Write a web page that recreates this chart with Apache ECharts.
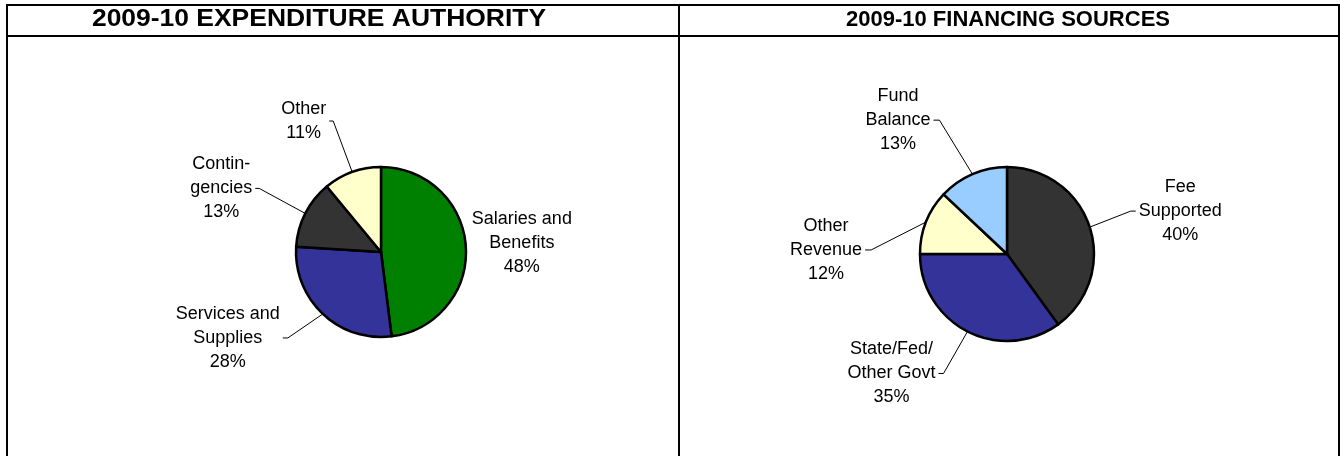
<!DOCTYPE html>
<html>
<head>
<meta charset="utf-8">
<title>2009-10 Expenditure Authority / Financing Sources</title>
<script src="https://cdn.jsdelivr.net/npm/echarts@6/dist/echarts.min.js"></script>
<style>
  html, body { margin: 0; padding: 0; background: #fff; }
  #chart { width: 1340px; height: 456px; }
</style>
</head>
<body>
<div id="chart"></div>
<script>
// chart data
var expenditureTitle = '2009-10 EXPENDITURE AUTHORITY'
var expenditureNames = ['Salaries and\nBenefits', 'Services and\nSupplies', 'Contin-\ngencies', 'Other']
var expenditureValues = [48, 28, 13, 11]

var financingTitle = '2009-10 FINANCING SOURCES'
var financingNames = ['Fee\nSupported', 'State/Fed/\nOther Govt', 'Other\nRevenue', 'Fund\nBalance']
var financingValues = [40, 35, 12, 13]

// styles
var FONT = '"Liberation Sans", Arial, Helvetica, sans-serif'
var expenditureColors = ['#008000', '#333399', '#333333', '#FFFFCC']
var financingColors = ['#333333', '#333399', '#FFFFCC', '#99CCFF']

// leader line shape for each slice: elbow offset from the slice edge, then a short horizontal run
var expenditureGuides = [
  { dx: 3, dy: -4, h: 0, hidden: true },
  { dx: -35, dy: 24, h: 5 },
  { dx: -46, dy: -25, h: 4 },
  { dx: -19, dy: -51, h: 4 }
]
var financingGuides = [
  { dx: 41, dy: -16, h: 5 },
  { dx: -24, dy: 42, h: 5 },
  { dx: -55, dy: 28, h: 6 },
  { dx: -33, dy: -54, h: 6 }
]

function buildData(names, values, colors, guides) {
  return values.map(function (v, i) {
    var item = {
      name: names[i],
      value: v,
      itemStyle: { color: colors[i] }
    }
    if (guides[i].hidden) {
      item.labelLine = { lineStyle: { opacity: 0 } }
    }
    return item
  })
}

function guideLayout(guides) {
  return function (params) {
    var g = guides[params.dataIndex]
    var pts = params.labelLinePoints
    if (!g || !pts) {
      return
    }
    var p0 = pts[0]
    var dir = g.dx < 0 ? -1 : 1
    var p1 = [p0[0] + g.dx, p0[1] + g.dy]
    var p2 = [p1[0] + dir * g.h, p1[1]]
    return {
      x: p2[0] + dir * 3,
      y: p2[1],
      align: dir < 0 ? 'right' : 'left',
      verticalAlign: 'middle',
      labelLinePoints: [p0, p1, p2]
    }
  }
}

function labelText(p) {
  return p.name.split('\n').concat(p.value + '%').map(function (s) {
    return '{t|' + s + '}'
  }).join('\n')
}

function pieSeries(name, center, radius, data, guides) {
  return {
    name: name,
    type: 'pie',
    center: center,
    radius: radius,
    startAngle: 90,
    clockwise: true,
    avoidLabelOverlap: false,
    silent: true,
    itemStyle: {
      borderColor: '#000',
      borderWidth: 2.5
    },
    label: {
      show: true,
      position: 'outside',
      formatter: labelText,
      color: '#000',
      fontFamily: FONT,
      fontSize: 18,
      rich: {
        t: {
          align: 'center',
          color: '#000',
          fontFamily: FONT,
          fontSize: 18,
          lineHeight: 24
        }
      }
    },
    labelLine: {
      show: true,
      length: 20,
      length2: 5,
      smooth: false,
      lineStyle: { color: '#000', width: 1 }
    },
    labelLayout: guideLayout(guides),
    emphasis: { disabled: true },
    data: data
  }
}

function hLine(x1, x2, y) {
  return { type: 'line', shape: { x1: x1, y1: y, x2: x2, y2: y }, style: { stroke: '#000', lineWidth: 2 } }
}
function vLine(x, y1, y2) {
  return { type: 'line', shape: { x1: x, y1: y1, x2: x, y2: y2 }, style: { stroke: '#000', lineWidth: 2 } }
}
// header cell text; the left heading is drawn wider in the original
function headerText(text, x, size, stretch) {
  return {
    type: 'text',
    x: x,
    y: 20,
    scaleX: stretch,
    style: {
      text: text,
      fill: '#000',
      font: 'bold ' + size + 'px ' + FONT,
      align: 'center',
      verticalAlign: 'middle',
      textAlign: 'center',
      textVerticalAlign: 'middle'
    }
  }
}

var chart = echarts.init(document.getElementById('chart'), null, { renderer: 'canvas' })

chart.setOption({
  animation: false,
  backgroundColor: '#fff',
  graphic: [
    hLine(6, 1340, 5),
    hLine(6, 1340, 36),
    vLine(7, 4, 456),
    vLine(679, 4, 456),
    vLine(1339, 4, 456),
    headerText(expenditureTitle, 319, 23, 1.15),
    headerText(financingTitle, 1008, 22, 1)
  ],
  series: [
    pieSeries('expenditure', [381, 252], 85,
      buildData(expenditureNames, expenditureValues, expenditureColors, expenditureGuides),
      expenditureGuides),
    pieSeries('financing', [1007, 254], 87,
      buildData(financingNames, financingValues, financingColors, financingGuides),
      financingGuides)
  ]
})
</script>
</body>
</html>
